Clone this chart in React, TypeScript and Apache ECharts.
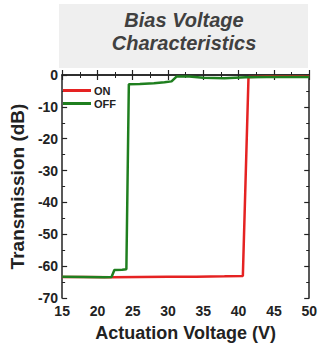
import React, { useEffect, useRef } from "react";
import * as echarts from "echarts";

const xTicks = [15, 20, 25, 30, 35, 40, 45, 50];
const yTicks = [0, -10, -20, -30, -40, -50, -60, -70];

const onX = [15, 18, 22, 26, 30, 34, 38, 40.6, 41.4, 44, 47, 50];
const onY = [-63.4, -63.4, -63.5, -63.4, -63.3, -63.3, -63.2, -63.1, -0.6, -0.5, -0.5, -0.5];

const offX = [15, 18, 21, 22.0, 22.4, 23.5, 24.1, 24.45, 26, 28, 29.5, 30.5, 31.2, 33, 35, 38, 41, 44, 47, 50];
const offY = [-63.3, -63.4, -63.5, -63.4, -61.2, -61.1, -61.0, -2.9, -2.8, -2.6, -2.3, -2.0, -0.5, -0.5, -0.9, -1.0, -0.7, -0.6, -0.6, -0.6];

const FONT = "'Liberation Sans', Arial, sans-serif";

export default function App() {
  const ref = useRef<HTMLDivElement>(null);
  useEffect(() => {
    document.body.style.margin = "0";
    if (!ref.current) return;
    const chart = echarts.init(ref.current, null, { renderer: "svg" });
    const axisCommon = {
      axisLine: { show: true, lineStyle: { color: "#222", width: 1.5 } },
      axisTick: { show: true, inside: true, length: 5, lineStyle: { color: "#222", width: 1.2 } },
      minorTick: { show: true, splitNumber: 2, length: 3, lineStyle: { color: "#222", width: 1 } },
      splitLine: { show: false },
    };
    chart.setOption({
      animation: false,
      backgroundColor: "#fff",
      graphic: [
        {
          type: "rect",
          shape: { x: 59, y: 4, width: 249, height: 64 },
          style: { fill: "#efefef" },
          z: 0,
        },
        {
          type: "text",
          x: 184,
          y: 31,
          style: {
            text: "Bias Voltage\nCharacteristics",
            font: `italic bold 20px ${FONT}`,
            fill: "#404040",
            textAlign: "center",
            textVerticalAlign: "middle",
            lineHeight: 23,
          },
          z: 1,
        },
      ],
      grid: { left: 54, right: 7, top: 75, bottom: 45 },
      legend: {
        left: 63,
        top: 85,
        padding: 0,
        orient: "vertical",
        itemWidth: 28,
        itemHeight: 3,
        itemGap: 2,
        data: ["ON", "OFF"],
        textStyle: { fontFamily: FONT, fontWeight: "bold", fontSize: 11, color: "#222", padding: [0, 0, 0, -2] },
        icon: "rect",
      },
      xAxis: [
        {
          type: "value",
          min: 15,
          max: 50,
          interval: 5,
          ...axisCommon,
          axisLabel: {
            show: true,
            fontFamily: FONT,
            fontWeight: "bold",
            fontSize: 14,
            color: "#222",
            margin: 6,
            customValues: xTicks,
          },
          name: "Actuation Voltage (V)",
          nameLocation: "middle",
          nameGap: 26,
          nameTextStyle: { fontFamily: FONT, fontWeight: "bold", fontSize: 18, color: "#222" },
        },
        {
          type: "value",
          position: "top",
          min: 15,
          max: 50,
          interval: 5,
          ...axisCommon,
          axisLabel: { show: false },
        },
      ],
      yAxis: [
        {
          type: "value",
          min: -70,
          max: 0,
          interval: 10,
          ...axisCommon,
          axisLabel: {
            show: true,
            fontFamily: FONT,
            fontWeight: "bold",
            fontSize: 14,
            color: "#222",
            margin: 4,
            customValues: yTicks,
          },
          name: "Transmission (dB)",
          nameLocation: "middle",
          nameGap: 24,
          nameTextStyle: { fontFamily: FONT, fontWeight: "bold", fontSize: 19, color: "#222" },
        },
        {
          type: "value",
          position: "right",
          min: -70,
          max: 0,
          interval: 10,
          ...axisCommon,
          axisLabel: { show: false },
        },
      ],
      series: [
        {
          name: "ON",
          type: "line",
          data: onX.map((x, i) => [x, onY[i]]),
          symbol: "none",
          lineStyle: { color: "#e52222", width: 2.5 },
          itemStyle: { color: "#e52222" },
          z: 2,
        },
        {
          name: "OFF",
          type: "line",
          data: offX.map((x, i) => [x, offY[i]]),
          symbol: "none",
          lineStyle: { color: "#1f7f1f", width: 2.5 },
          itemStyle: { color: "#1f7f1f" },
          z: 3,
        },
      ],
    });
    return () => chart.dispose();
  }, []);
  return <div ref={ref} style={{ width: 320, height: 347 }} />;
}
